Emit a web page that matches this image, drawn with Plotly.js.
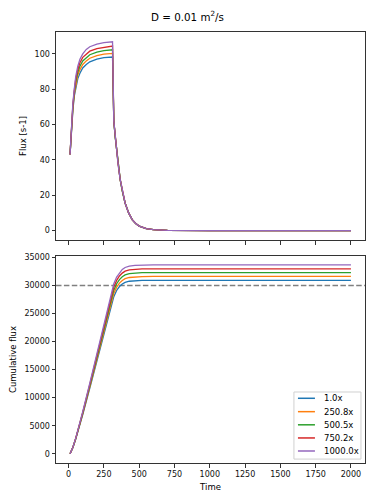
<!DOCTYPE html>
<html>
<head>
<meta charset="utf-8">
<script src="https://cdn.plot.ly/plotly-3.0.1.min.js"></script>
<style>html,body{margin:0;padding:0;background:#fff;}#chart{width:375px;height:500px;}</style>
</head>
<body>
<div id="chart"></div>
<script>
// ---- data ----
const seriesNames = ["1.0x", "250.8x", "500.5x", "750.2x", "1000.0x"];
const seriesColors = ["#1f77b4", "#ff7f0e", "#2ca02c", "#d62728", "#9467bd"];

// Flux vs time
const tFlux = [10, 20, 30, 40, 50, 65, 80, 100, 125, 150, 200, 250, 311,
               320, 330, 340, 350, 365, 380, 400, 425, 450, 475, 500, 550, 600, 700, 800, 1000, 1500, 2000];
const fluxRise_1 = [43, 58, 68, 76, 81, 86, 89, 92, 94, 95.5, 97, 97.8, 98.2];
const fluxRise_250 = [43, 58.5, 69, 77, 82.5, 88, 91, 94, 96, 97.5, 99, 99.8, 100.2];
const fluxRise_500 = [43, 59, 70, 78, 84, 89.5, 93, 96, 98, 99.5, 101, 101.8, 102.3];
const fluxRise_750 = [43, 59.5, 71, 79, 85.5, 91, 95, 98, 100, 101.5, 103, 103.8, 104.4];
const fluxRise_1000 = [43, 60, 72, 80, 87, 93, 97, 100, 102.5, 104, 105.5, 106.3, 106.8];
const fluxFall = [62, 53, 45, 38, 29, 22.5, 15.6, 10, 6.2, 4, 2.5, 1.1, 0.5, 0.15, 0.05, 0.01, 0, 0];

// Cumulative flux vs time
const tCum = [10, 30, 50, 75, 100, 150, 200, 250, 300, 320, 340, 360, 380, 400, 430, 470, 520, 600, 800, 2000];
const cum_1 = [0, 1100, 2600, 4700, 7000, 11700, 16500, 21400, 26300, 28000, 29100, 29800, 30250, 30550, 30750, 30850, 30890, 30900, 30900, 30900];
const cum_250 = [0, 1110, 2640, 4780, 7120, 11930, 16840, 21840, 26830, 28570, 29700, 30420, 30880, 31200, 31420, 31530, 31580, 31600, 31600, 31600];
const cum_500 = [0, 1125, 2680, 4850, 7250, 12150, 17170, 22270, 27370, 29150, 30300, 31050, 31550, 31880, 32100, 32220, 32280, 32300, 32300, 32300];
const cum_750 = [0, 1140, 2710, 4920, 7370, 12380, 17510, 22710, 27910, 29720, 30900, 31680, 32200, 32540, 32770, 32890, 32940, 32950, 32950, 32950];
const cum_1000 = [0, 1150, 2750, 5000, 7500, 12600, 17850, 23150, 28450, 30300, 31500, 32300, 32850, 33200, 33450, 33580, 33630, 33650, 33650, 33650];
const threshold = [30000];

const xTicks = [0, 250, 500, 750, 1000, 1250, 1500, 1750, 2000];
const fluxTicks = [0, 20, 40, 60, 80, 100];
const cumTicks = [0, 5000, 10000, 15000, 20000, 25000, 30000, 35000];

// ---- build traces ----
const fluxRises = [fluxRise_1, fluxRise_250, fluxRise_500, fluxRise_750, fluxRise_1000];
const cums = [cum_1, cum_250, cum_500, cum_750, cum_1000];
const traces = [];
seriesNames.forEach((name, i) => {
  traces.push({
    x: tFlux, y: fluxRises[i].concat(fluxFall), type: 'scatter', mode: 'lines',
    line: {color: seriesColors[i], width: 1.3}, xaxis: 'x', yaxis: 'y',
    name: name, showlegend: false, hoverinfo: 'skip'
  });
});
seriesNames.forEach((name, i) => {
  traces.push({
    x: tCum, y: cums[i], type: 'scatter', mode: 'lines', line: {color: seriesColors[i], width: 1.3},
    xaxis: 'x2', yaxis: 'y2', name: name, showlegend: false, hoverinfo: 'skip'
  });
});

const FF = 'DejaVu Sans, sans-serif';
const axBase = {
  showgrid: false, zeroline: false, showline: true, mirror: true,
  linecolor: '#333', linewidth: 1, ticks: 'outside', ticklen: 3.5, tickwidth: 1, tickcolor: '#333',
  tickfont: {family: FF, size: 8, color: '#111'}
};
const xr = [-89.5, 2099.5];

// legend (drawn as layout decorations in the lower axes' domain space)
const legX0 = 0.770, legX1 = 0.987, legY0 = 0.019, legY1 = 0.343;
const legRowY = [0.3126, 0.248, 0.1845, 0.121, 0.058];
const shapes = [
  {type: 'line', xref: 'x2 domain', yref: 'y2', x0: 0, x1: 1, y0: threshold[0], y1: threshold[0],
   line: {color: '#808080', width: 1.5, dash: '5.5px,2.4px'}, layer: 'below'},
  {type: 'rect', xref: 'x2 domain', yref: 'y2 domain', x0: legX0, x1: legX1, y0: legY0, y1: legY1,
   line: {color: '#d0d0d0', width: 1}, fillcolor: 'rgba(255,255,255,0.8)', layer: 'above'}
];
const annotations = [];
seriesNames.forEach((name, i) => {
  shapes.push({type: 'line', xref: 'x2 domain', yref: 'y2 domain', x0: 0.783, x1: 0.838,
               y0: legRowY[i], y1: legRowY[i], line: {color: seriesColors[i], width: 1.5}, layer: 'above'});
  annotations.push({xref: 'x2 domain', yref: 'y2 domain', x: 0.86, y: legRowY[i], xanchor: 'left',
                    yanchor: 'middle', text: name, showarrow: false,
                    font: {family: FF, size: 8.5, color: '#000'}});
});

const layout = {
  width: 375, height: 500,
  margin: {l: 56, r: 10, t: 32, b: 37},
  paper_bgcolor: '#fff', plot_bgcolor: '#fff',
  font: {family: FF, size: 8.5, color: '#000'},
  title: {text: 'D = 0.01 m<sup>2</sup>/s', x: 0.5, xref: 'container', y: 0.966, yref: 'container',
          yanchor: 'middle', font: {family: FF, size: 10.3, color: '#000'}},
  showlegend: false,
  xaxis: Object.assign({}, axBase, {domain: [0, 1], range: xr, tickvals: xTicks, showticklabels: false, anchor: 'y'}),
  yaxis: Object.assign({}, axBase, {domain: [0.5174, 1], range: [-5.35, 112.35], tickvals: fluxTicks,
           ticktext: fluxTicks.map(String), anchor: 'x',
           title: {text: 'Flux [s-1]', font: {family: FF, size: 8.5, color: '#000'}, standoff: 6}}),
  xaxis2: Object.assign({}, axBase, {domain: [0, 1], range: xr, tickvals: xTicks, ticktext: xTicks.map(String),
           anchor: 'y2',
           title: {text: 'Time', font: {family: FF, size: 8.5, color: '#000'}, standoff: 5}}),
  yaxis2: Object.assign({}, axBase, {domain: [0, 0.4803], range: [-1650, 35250], tickvals: cumTicks,
           ticktext: cumTicks.map(String), anchor: 'x2',
           title: {text: 'Cumulative flux', font: {family: FF, size: 8.5, color: '#000'}, standoff: 6}}),
  shapes: shapes,
  annotations: annotations
};

Plotly.newPlot('chart', traces, layout, {displayModeBar: false, staticPlot: true});
</script>
</body>
</html>
